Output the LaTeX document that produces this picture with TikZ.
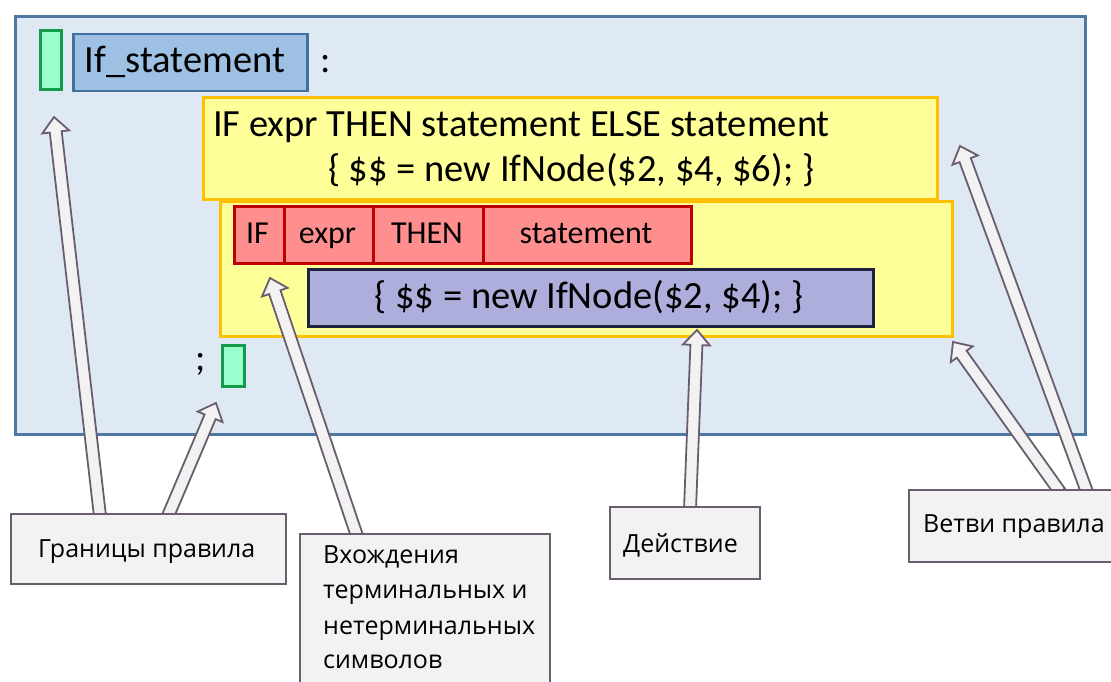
\documentclass[tikz,border=0pt]{standalone}
\usepackage{fontspec}
\setmainfont{Carlito}
\newfontfamily\labfont{Open Sans}
\usetikzlibrary{calc}
\definecolor{bgblue}{HTML}{DFE9F4}
\definecolor{bgborder}{HTML}{4E78A2}
\definecolor{headfill}{HTML}{9DC0E3}
\definecolor{headborder}{HTML}{41719C}
\definecolor{grnfill}{HTML}{99FFCC}
\definecolor{grnborder}{HTML}{139A4A}
\definecolor{ylwfill}{HTML}{FFFF99}
\definecolor{ylwborder}{HTML}{FFC000}
\definecolor{redfill}{HTML}{FF8F8F}
\definecolor{redborder}{HTML}{C00000}
\definecolor{prpfill}{HTML}{AEAEDC}
\definecolor{prpborder}{HTML}{20203F}
\definecolor{labfill}{HTML}{F2F2F2}
\definecolor{labborder}{HTML}{6B5D70}
\newcommand\blkarrow[2]{%
  \path ($(#2)!15pt!(#1)$) coordinate (ah);
  \draw[arrowshape] ($(#1)!6pt!90:(#2)$) -- ($(ah)!6pt!-90:(#1)$) -- ($(ah)!13.5pt!-90:(#1)$) -- (#2)
    -- ($(ah)!13.5pt!90:(#1)$) -- ($(ah)!6pt!90:(#1)$) -- ($(#1)!6pt!-90:(#2)$) -- cycle;
}
\begin{document}
\begin{tikzpicture}[x=1pt,y=-1pt,
  box/.style={draw, inner sep=0pt, anchor=north west},
  bluebox/.style={box, line width=3pt, draw=bgborder, fill=bgblue},
  headbox/.style={box, line width=2.5pt, draw=headborder, fill=headfill},
  grnbox/.style={box, line width=3pt, draw=grnborder, fill=grnfill},
  ylwbox/.style={box, line width=3pt, draw=ylwborder, fill=ylwfill},
  redbox/.style={box, line width=3pt, draw=redborder, fill=redfill, minimum height=57pt},
  prpbox/.style={box, line width=3pt, draw=prpborder, fill=prpfill},
  labbox/.style={box, line width=2pt, draw=labborder, fill=labfill},
  arrowshape/.style={draw=labborder, fill=labfill, line width=1.8pt, line join=miter},
  bigtxt/.style={inner sep=0pt, font=\fontsize{38.5}{46}\selectfont},
  celltxt/.style={inner sep=0pt, anchor=base, font=\fontsize{32}{38}\selectfont},
  labtxt/.style={inner sep=0pt, anchor=base west, font=\labfont\fontsize{25}{30}\selectfont}
]
\useasboundingbox (0,0) rectangle (1111,682);
\fill[white] (0,0) rectangle (1111,682);

% main rule area
\node[bluebox, minimum width=1070pt, minimum height=417pt] (rule) at (13.5,15.5) {};
\node[grnbox, minimum width=21pt, minimum height=59pt] (gstart) at (38.5,29.5) {};
\node[headbox, minimum width=234pt, minimum height=57pt] (head) at (72,33) {};
\node[bigtxt, anchor=base] (headtxt) at (185,73) {If\_statement};
\node[bigtxt, anchor=base west] (colon) at (320,73) {:};

% first branch
\node[ylwbox, minimum width=734pt, minimum height=101pt] (br1) at (201.5,96.5) {};
\node[bigtxt, anchor=base west] (br1a) at (213,137) {IF expr THEN statement ELSE statement};
\node[bigtxt, anchor=base west] (br1b) at (328,182) {\{ \$\$ = new IfNode(\$2, \$4, \$6); \}};

% second branch
\node[ylwbox, minimum width=732pt, minimum height=135pt] (br2) at (218.5,199.5) {};
\node[redbox, minimum width=50.5pt] (cIF) at (232.5,204.5) {};
\node[redbox, minimum width=89pt] (cexpr) at (283,204.5) {};
\node[redbox, minimum width=110pt] (cthen) at (372,204.5) {};
\node[redbox, minimum width=208pt] (cstmt) at (482,204.5) {};
\node[celltxt] (tIF) at (257.5,243) {IF};
\node[celltxt] (texpr) at (327.5,243) {expr};
\node[celltxt] (tthen) at (427,243) {THEN};
\node[celltxt] (tstmt) at (586,243) {statement};
\node[prpbox, minimum width=565pt, minimum height=57pt] (act) at (306.5,267.5) {};
\node[bigtxt, anchor=base] (acttxt) at (589,308) {\{ \$\$ = new IfNode(\$2, \$4); \}};

% end of rule
\node[bigtxt, anchor=base west] (semi) at (195,370) {;};
\node[grnbox, minimum width=22pt, minimum height=41pt] (gend) at (220.5,343.5) {};

% arrow tips
\coordinate (tip1) at (54,117);
\coordinate (tip2) at (216,403);
\coordinate (tip3) at (270,278);
\coordinate (tip4) at (697,330);
\coordinate (tip5) at (953,342);
\coordinate (tip6) at (960,146);

% arrow starts (on the label boxes)
\coordinate (s1) at (100,516);
\coordinate (s2) at (168,516);
\coordinate (s3) at (357,536);
\coordinate (s4) at (690,509);
\coordinate (s5) at (1060,492);
\coordinate (s6) at (1087,492);

\blkarrow{s1}{tip1}
\blkarrow{s2}{tip2}
\blkarrow{s3}{tip3}
\blkarrow{s4}{tip4}
\blkarrow{s5}{tip5}
\blkarrow{s6}{tip6}

% labels
\node[labbox, minimum width=275pt, minimum height=70pt] (lab1) at (10,513) {};
\node[labtxt] (lab1t) at (38,557) {Границы правила};
\node[labbox, minimum width=250pt, minimum height=180pt] (lab2) at (299,533) {};
\node[labtxt] (lab2a) at (323,563) {Вхождения};
\node[labtxt] (lab2b) at (323,598) {терминальных и};
\node[labtxt] (lab2c) at (323,634) {нетерминальных};
\node[labtxt] (lab2d) at (323,668) {символов};
\node[labbox, minimum width=150pt, minimum height=72pt] (lab3) at (609,506) {};
\node[labtxt] (lab3t) at (623,552) {Действие};
\node[labbox, minimum width=250pt, minimum height=72pt] (lab4) at (908,489) {};
\node[labtxt] (lab4t) at (923,532) {Ветви правила};
\end{tikzpicture}
\end{document}
